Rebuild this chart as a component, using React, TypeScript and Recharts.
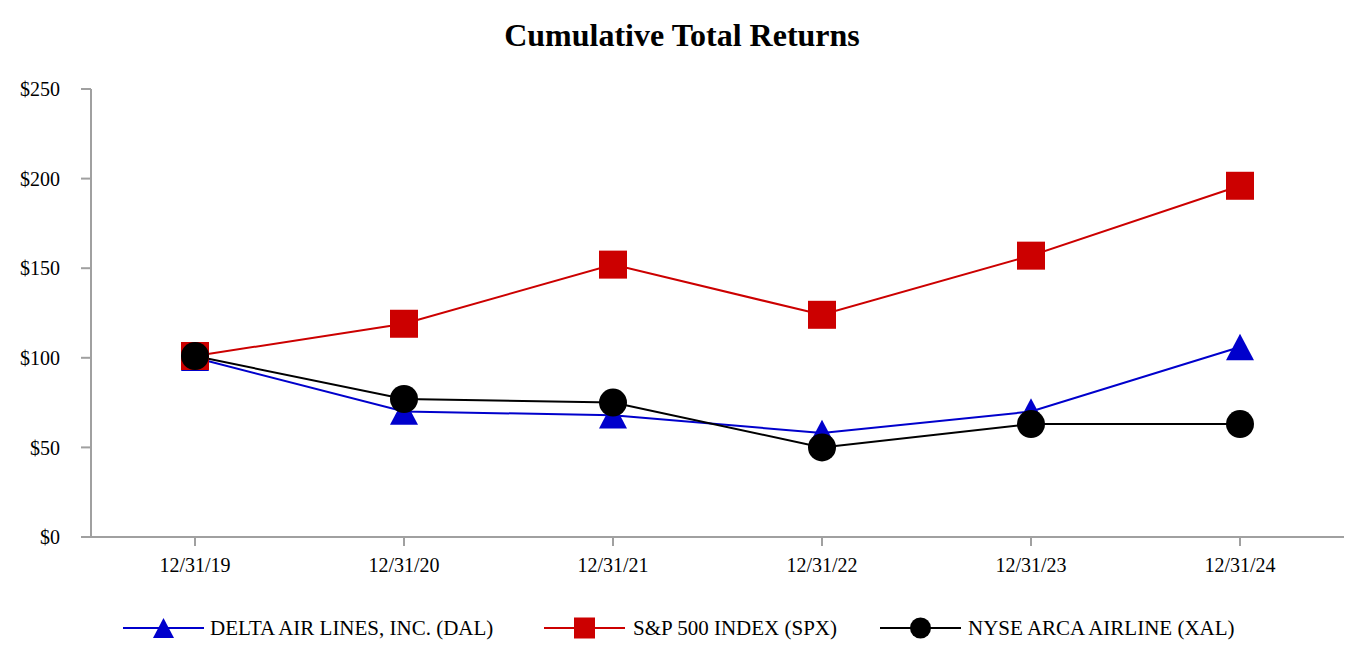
import React from 'react';
import { LineChart, Line, XAxis, YAxis, Legend } from 'recharts';

const categories = ['12/31/19', '12/31/20', '12/31/21', '12/31/22', '12/31/23', '12/31/24'];
const dalValues = [100, 70, 68, 58, 70, 106];
const spxValues = [101, 119, 152, 124, 157, 196];
const xalValues = [101, 77, 75, 50, 63, 63];
const yTicks = [0, 50, 100, 150, 200, 250];
const seriesNames = ['DELTA AIR LINES, INC. (DAL)', 'S&P 500 INDEX (SPX)', 'NYSE ARCA AIRLINE (XAL)'];

const data = categories.map((c, i) => ({ date: c, dal: dalValues[i], spx: spxValues[i], xal: xalValues[i] }));

const BLUE = '#0000cc';
const RED = '#cc0000';
const BLACK = '#000000';
const AXIS = '#a0a0a0';
const FONT = '"Liberation Serif", "Times New Roman", serif';

const triangle = (cx: number, cy: number, s: number, fill: string, key?: any) => {
  const h = s * 0.95;
  return (
    <path
      key={key}
      d={`M${cx},${cy - h / 2} L${cx + s / 2},${cy + h / 2} L${cx - s / 2},${cy + h / 2} Z`}
      fill={fill}
    />
  );
};
const square = (cx: number, cy: number, s: number, fill: string, key?: any) => (
  <rect key={key} x={cx - s / 2} y={cy - s / 2} width={s} height={s} fill={fill} />
);
const circle = (cx: number, cy: number, s: number, fill: string, key?: any) => (
  <circle key={key} cx={cx} cy={cy} r={s / 2} fill={fill} />
);

const MS = 28;

const dotFactory = (shape: typeof triangle, color: string) => (props: any) => {
  const { cx, cy, index } = props;
  if (cx == null || cy == null) return <g key={`e-${index}`} />;
  return shape(cx, cy, MS, color, `d-${index}`);
};

const legendItems = [
  { name: seriesNames[0], color: BLUE, shape: triangle, iconLeft: 123, textLeft: 210 },
  { name: seriesNames[1], color: RED, shape: square, iconLeft: 544, textLeft: 633 },
  { name: seriesNames[2], color: BLACK, shape: circle, iconLeft: 880, textLeft: 968 },
];

const renderLegend = () => (
  <div style={{ position: 'relative', width: 1364, height: 40 }}>
    {legendItems.map((it) => (
      <React.Fragment key={it.name}>
        <svg
          width={82}
          height={40}
          style={{ position: 'absolute', left: it.iconLeft, top: 0 }}
        >
          <line x1={0} y1={20} x2={81} y2={20} stroke={it.color} strokeWidth={2} />
          {it.shape(40.5, 20, 21, it.color)}
        </svg>
        <span
          style={{
            position: 'absolute',
            left: it.textLeft,
            top: 0,
            lineHeight: '40px',
            fontFamily: FONT,
            fontSize: 21,
            color: '#000',
            whiteSpace: 'nowrap',
          }}
        >
          {it.name}
        </span>
      </React.Fragment>
    ))}
  </div>
);

export default function App() {
  return (
    <div style={{ position: 'absolute', left: 0, top: 0, width: 1364, height: 666, background: '#fff' }}>
      <div
        style={{
          position: 'absolute',
          left: 0,
          top: 19,
          width: 1364,
          textAlign: 'center',
          fontFamily: FONT,
          fontWeight: 'bold',
          fontSize: 32,
          lineHeight: '32px',
          color: '#000',
        }}
      >
        Cumulative Total Returns
      </div>
      <LineChart
        width={1364}
        height={666}
        data={data}
        margin={{ top: 89, right: 20, bottom: 49, left: 0 }}
      >
        <XAxis
          dataKey="date"
          padding={{ left: 104, right: 104 }}
          height={40}
          axisLine={{ stroke: AXIS, strokeWidth: 2 }}
          tickLine={{ stroke: AXIS, strokeWidth: 2 }}
          tickSize={9}
          tickMargin={12}
          tick={{ fill: '#000', fontFamily: FONT, fontSize: 20 }}
          interval={0}
        />
        <YAxis
          width={91}
          domain={[0, 250]}
          ticks={yTicks}
          tickFormatter={(v: number) => `$${v}`}
          axisLine={{ stroke: AXIS, strokeWidth: 2 }}
          tickLine={{ stroke: AXIS, strokeWidth: 2 }}
          tickSize={10}
          tickMargin={21}
          tick={{ fill: '#000', fontFamily: FONT, fontSize: 20 }}
        />
        <Legend
          verticalAlign="bottom"
          content={renderLegend}
          wrapperStyle={{ left: 0, top: 608, width: 1364, height: 40 }}
        />
        <Line
          type="linear"
          dataKey="dal"
          name={seriesNames[0]}
          stroke={BLUE}
          strokeWidth={2}
          dot={dotFactory(triangle, BLUE)}
          activeDot={false}
          isAnimationActive={false}
        />
        <Line
          type="linear"
          dataKey="spx"
          name={seriesNames[1]}
          stroke={RED}
          strokeWidth={2}
          dot={dotFactory(square, RED)}
          activeDot={false}
          isAnimationActive={false}
        />
        <Line
          type="linear"
          dataKey="xal"
          name={seriesNames[2]}
          stroke={BLACK}
          strokeWidth={2}
          dot={dotFactory(circle, BLACK)}
          activeDot={false}
          isAnimationActive={false}
        />
      </LineChart>
    </div>
  );
}
